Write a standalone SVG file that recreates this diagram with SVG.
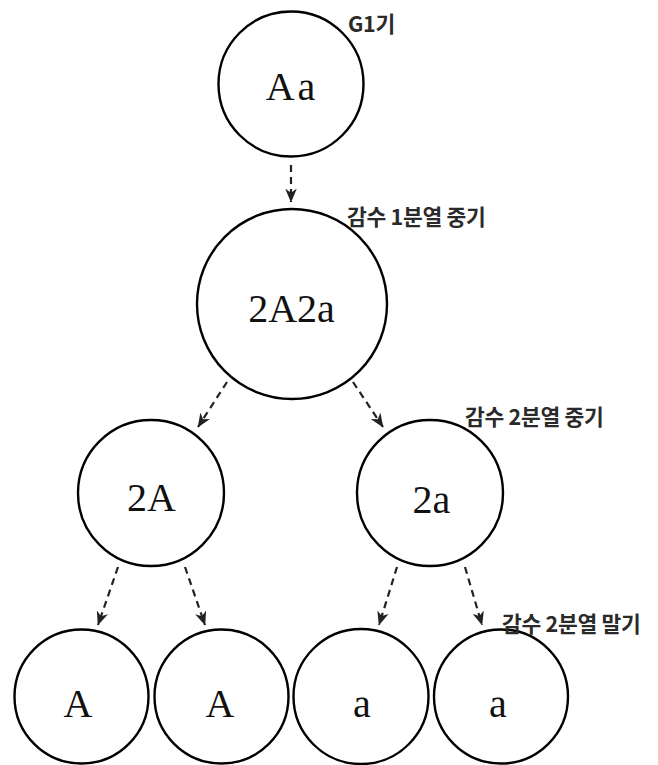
<svg xmlns="http://www.w3.org/2000/svg" width="658" height="765" viewBox="0 0 658 765">
<style>
.cell{fill:#fff;stroke:#000;stroke-width:2.4}
.gt{font-family:"Liberation Serif","Times New Roman",serif;font-size:40px;fill:#111;text-anchor:middle}
.lbl{font-family:"Noto Sans CJK KR","Noto Sans",sans-serif;font-weight:bold;font-size:21.5px;fill:#2a2a2a;letter-spacing:-0.3px}
.con{stroke:#222;stroke-width:2.2;stroke-dasharray:7 5;fill:none;marker-end:url(#ah)}
</style>
<defs>
<marker id="ah" viewBox="0 0 12 10" refX="11.5" refY="5" markerWidth="14" markerHeight="12" orient="auto" markerUnits="userSpaceOnUse">
<path d="M0,0 L12,5 L0,10 L3.5,5 z" fill="#222"/>
</marker>
</defs>
<rect width="658" height="765" fill="#fff"/>
<g id="connectors">
<line class="con" x1="291" y1="165" x2="291" y2="202"/>
<line class="con" x1="227" y1="382" x2="198" y2="427"/>
<line class="con" x1="353" y1="382" x2="383" y2="427"/>
<line class="con" x1="118" y1="567" x2="98" y2="625"/>
<line class="con" x1="185" y1="567" x2="205" y2="625"/>
<line class="con" x1="397" y1="567" x2="379" y2="625"/>
<line class="con" x1="465" y1="567" x2="482" y2="625"/>
</g>
<g id="g1">
<circle class="cell" cx="291" cy="84" r="72.5"/>
<text class="gt" x="292" y="100" letter-spacing="3">Aa</text>
<text class="lbl" x="348" y="32">G1기</text>
</g>
<g id="meiosis1">
<circle class="cell" cx="292" cy="304" r="95"/>
<text class="gt" x="291.5" y="322">2A2a</text>
<text class="lbl" x="347" y="225">감수 1분열 중기</text>
</g>
<g id="m2A">
<circle class="cell" cx="151" cy="493" r="73"/>
<text class="gt" x="151.5" y="511">2A</text>
</g>
<g id="m2a">
<circle class="cell" cx="430" cy="493" r="73"/>
<text class="gt" x="431.5" y="513">2a</text>
<text class="lbl" x="465" y="425">감수 2분열 중기</text>
</g>
<g id="t1">
<circle class="cell" cx="81.5" cy="696.5" r="67"/>
<text class="gt" x="78" y="717">A</text>
</g>
<g id="t2">
<circle class="cell" cx="221.5" cy="696.5" r="67"/>
<text class="gt" x="220" y="717">A</text>
</g>
<g id="t3">
<circle class="cell" cx="361" cy="696.5" r="67.5"/>
<text class="gt" x="362" y="717">a</text>
</g>
<g id="t4">
<circle class="cell" cx="501" cy="696.5" r="67"/>
<text class="gt" x="498" y="717">a</text>
<text class="lbl" x="502" y="632">감수 2분열 말기</text>
</g>
</svg>
